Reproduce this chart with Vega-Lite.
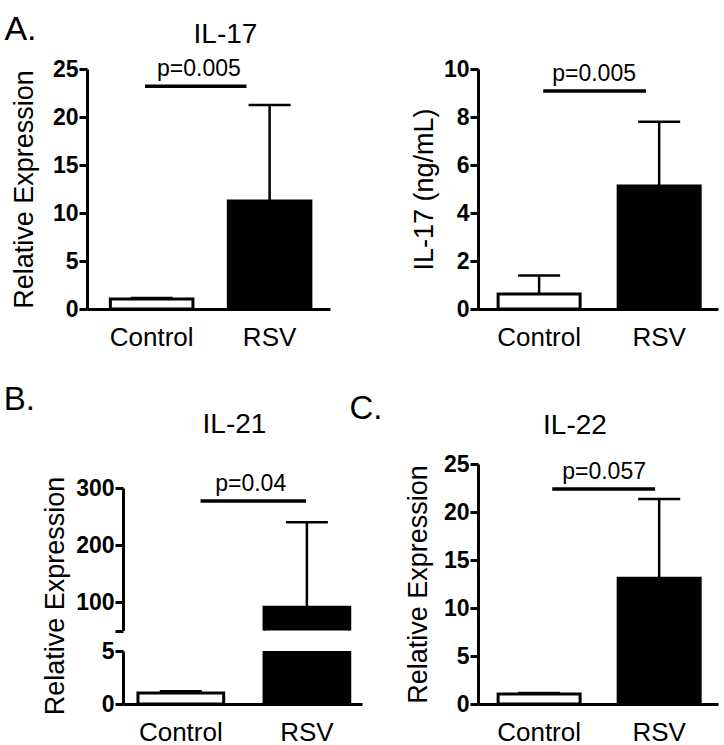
{
  "$schema": "https://vega.github.io/schema/vega-lite/v6.json",
  "background": "white",
  "padding": {"left": 3, "top": 13, "right": 5, "bottom": 5},
  "config": {
    "font": "Liberation Sans",
    "view": {"stroke": null},
    "title": {"fontSize": 28, "fontWeight": "normal", "color": "black", "font": "Liberation Sans", "baseline": "alphabetic"},
    "axis": {"domainColor": "black", "domainWidth": 3, "tickColor": "black", "tickWidth": 3, "tickSize": 8, "labelColor": "black", "titleColor": "black", "grid": false, "labelFont": "Liberation Sans", "titleFont": "Liberation Sans"},
    "axisY": {"labelFontSize": 23, "labelFontWeight": "bold", "labelPadding": 1, "titleFontSize": 27, "titleFontWeight": "normal", "titlePadding": 10, "labelFlush": false},
    "axisX": {"ticks": false, "labelFontSize": 26, "labelAngle": 0, "labelPadding": 15, "labelFontWeight": "normal"},
    "tick": {"opacity": 1}
  },
  "spacing": 34,
  "vconcat": [
    {
      "title": {"text": "A.", "anchor": "start", "fontSize": 34, "offset": -26, "dx": -6},
      "spacing": 80,
      "hconcat": [
        {
          "width": 243, "height": 240,
          "title": {"text": "IL-17", "dx": 17, "offset": 9},
          "data": {"values": [
            {"group": "Control", "mean": 1.05, "upper": 1.15},
            {"group": "RSV", "mean": 11.25, "upper": 21.25}
          ]},
          "encoding": {
            "x": {"field": "group", "type": "nominal", "title": null,
                  "scale": {"domain": ["Control", "RSV"], "paddingInner": 0.3, "paddingOuter": 0.18, "align": 0.55}}
          },
          "layer": [
            {"mark": {"type": "bar", "stroke": "black", "strokeWidth": 3},
             "encoding": {
               "y": {"field": "mean", "type": "quantitative", "title": "Relative Expression",
                     "scale": {"domain": [0, 25], "nice": false, "zero": false},
                     "axis": {"values": [0, 5, 10, 15, 20, 25], "titlePadding": 14}},
               "fill": {"field": "group", "type": "nominal", "scale": {"domain": ["Control", "RSV"], "range": ["white", "black"]}, "legend": null}
             }},
            {"mark": {"type": "rule", "strokeWidth": 2.5, "color": "black"},
             "encoding": {"y": {"field": "mean", "type": "quantitative", "title": "Relative Expression"}, "y2": {"field": "upper"}}},
            {"mark": {"type": "tick", "size": 42, "thickness": 2.5, "color": "black"},
             "encoding": {"y": {"field": "upper", "type": "quantitative", "title": "Relative Expression"}}},
            {"data": {"values": [{"group": "Control", "to": "RSV", "mean": 23.2, "label": "p=0.005"}]},
             "layer": [
               {"mark": {"type": "rule", "strokeWidth": 3.5, "color": "black"},
                "encoding": {
                  "x": {"field": "group", "type": "nominal", "title": null, "bandPosition": 0.42},
                  "x2": {"field": "to", "bandPosition": 0.22},
                  "y": {"field": "mean", "type": "quantitative", "title": "Relative Expression"}}},
               {"mark": {"type": "text", "fontSize": 23, "dx": 6, "dy": -10, "baseline": "alphabetic", "align": "center", "color": "black"},
                "encoding": {
                  "x": {"field": "group", "type": "nominal", "title": null, "bandPosition": 1},
                  "y": {"field": "mean", "type": "quantitative", "title": "Relative Expression"},
                  "text": {"field": "label"}}}
             ]}
          ]
        },
        {
          "width": 240, "height": 240,
          "data": {"values": [
            {"group": "Control", "mean": 0.62, "upper": 1.4},
            {"group": "RSV", "mean": 5.13, "upper": 7.8}
          ]},
          "encoding": {
            "x": {"field": "group", "type": "nominal", "title": null,
                  "scale": {"domain": ["Control", "RSV"], "paddingInner": 0.317, "paddingOuter": 0.158, "align": 0.53}}
          },
          "layer": [
            {"mark": {"type": "bar", "stroke": "black", "strokeWidth": 3},
             "encoding": {
               "y": {"field": "mean", "type": "quantitative", "title": "IL-17 (ng/mL)",
                     "scale": {"domain": [0, 10], "nice": false, "zero": false},
                     "axis": {"values": [0, 2, 4, 6, 8, 10], "titlePadding": 5}},
               "fill": {"field": "group", "type": "nominal", "scale": {"domain": ["Control", "RSV"], "range": ["white", "black"]}, "legend": null}
             }},
            {"mark": {"type": "rule", "strokeWidth": 2.5, "color": "black"},
             "encoding": {"y": {"field": "mean", "type": "quantitative", "title": "IL-17 (ng/mL)"}, "y2": {"field": "upper"}}},
            {"mark": {"type": "tick", "size": 42, "thickness": 2.5, "color": "black"},
             "encoding": {"y": {"field": "upper", "type": "quantitative", "title": "IL-17 (ng/mL)"}}},
            {"data": {"values": [{"group": "Control", "to": "RSV", "mean": 9.08, "label": "p=0.005"}]},
             "layer": [
               {"mark": {"type": "rule", "strokeWidth": 3.5, "color": "black"},
                "encoding": {
                  "x": {"field": "group", "type": "nominal", "title": null, "bandPosition": 0.55},
                  "x2": {"field": "to", "bandPosition": 0.34},
                  "y": {"field": "mean", "type": "quantitative", "title": "IL-17 (ng/mL)"}}},
               {"mark": {"type": "text", "fontSize": 23, "dx": 14, "dy": -10, "baseline": "alphabetic", "align": "center", "color": "black"},
                "encoding": {
                  "x": {"field": "group", "type": "nominal", "title": null, "bandPosition": 1},
                  "y": {"field": "mean", "type": "quantitative", "title": "IL-17 (ng/mL)"},
                  "text": {"field": "label"}}}
             ]}
          ]
        }
      ]
    },
    {
      "spacing": -13,
      "hconcat": [
        {
          "title": {"text": "B.", "anchor": "start", "fontSize": 33, "dx": -38, "offset": -6},
          "bounds": "flush",
          "spacing": 20,
          "vconcat": [
            {
              "width": 275, "height": 166.5,
              "title": {"text": "IL-21", "dx": 10, "offset": 25},
              "data": {"values": [
                {"group": "Control", "mean": 1.04, "upper": 1.2},
                {"group": "RSV", "mean": 91, "upper": 240}
              ]},
              "encoding": {
                "x": {"field": "group", "type": "nominal", "title": null, "axis": null,
                      "scale": {"domain": ["Control", "RSV"], "range": [36, 275], "paddingInner": 0.32, "paddingOuter": 0.108, "align": 0.55}}
              },
              "layer": [
                {"mark": {"type": "bar", "stroke": "black", "strokeWidth": 3, "clip": true},
                 "encoding": {
                   "y": {"field": "mean", "type": "quantitative", "title": "Relative Expression",
                         "scale": {"domain": [50, 300], "range": [166.5, 24], "nice": false, "zero": false},
                         "axis": {"values": [50, 100, 200, 300], "labelExpr": "datum.value == 50 ? '' : datum.label", "titleY": 131.5, "titlePadding": 6, "offset": -36}},
                   "fill": {"field": "group", "type": "nominal", "scale": {"domain": ["Control", "RSV"], "range": ["white", "black"]}, "legend": null}
                 }},
                {"mark": {"type": "rule", "strokeWidth": 2.5, "color": "black", "clip": true},
                 "encoding": {"y": {"field": "mean", "type": "quantitative", "title": "Relative Expression"}, "y2": {"field": "upper"}}},
                {"mark": {"type": "tick", "size": 42, "thickness": 2.5, "color": "black", "clip": true},
                 "encoding": {"y": {"field": "upper", "type": "quantitative", "title": "Relative Expression"}}},
                {"data": {"values": [{"group": "Control", "to": "RSV", "mean": 277, "label": "p=0.04"}]},
                 "layer": [
                   {"mark": {"type": "rule", "strokeWidth": 3.5, "color": "black"},
                    "encoding": {
                      "x": {"field": "group", "type": "nominal", "title": null, "bandPosition": 0.73},
                      "x2": {"field": "to", "bandPosition": 0.49},
                      "y": {"field": "mean", "type": "quantitative", "title": "Relative Expression"}}},
                   {"mark": {"type": "text", "fontSize": 23, "dx": 27, "dy": -10, "baseline": "alphabetic", "align": "center", "color": "black"},
                    "encoding": {
                      "x": {"field": "group", "type": "nominal", "title": null, "bandPosition": 1},
                      "y": {"field": "mean", "type": "quantitative", "title": "Relative Expression"},
                      "text": {"field": "label"}}}
                 ]}
              ]
            },
            {
              "width": 275, "height": 53,
              "data": {"values": [
                {"group": "Control", "mean": 1.04, "upper": 1.2},
                {"group": "RSV", "mean": 91, "upper": 240}
              ]},
              "encoding": {
                "x": {"field": "group", "type": "nominal", "title": null,
                      "scale": {"domain": ["Control", "RSV"], "range": [36, 275], "paddingInner": 0.32, "paddingOuter": 0.108, "align": 0.55}}
              },
              "layer": [
                {"mark": {"type": "bar", "stroke": "black", "strokeWidth": 3, "clip": true},
                 "encoding": {
                   "y": {"field": "mean", "type": "quantitative", "title": null,
                         "scale": {"domain": [0, 5], "nice": false, "zero": false},
                         "axis": {"values": [0, 5], "title": null, "offset": -36}},
                   "fill": {"field": "group", "type": "nominal", "scale": {"domain": ["Control", "RSV"], "range": ["white", "black"]}, "legend": null}
                 }},
                {"mark": {"type": "rule", "strokeWidth": 2.5, "color": "black", "clip": true},
                 "encoding": {"y": {"field": "mean", "type": "quantitative", "title": null}, "y2": {"field": "upper"}}},
                {"mark": {"type": "tick", "size": 42, "thickness": 2.5, "color": "black", "clip": true},
                 "encoding": {"y": {"field": "upper", "type": "quantitative", "title": null}}}
              ]
            }
          ]
        },
        {
          "title": {"text": "C.", "anchor": "start", "fontSize": 33, "dx": -55, "offset": -14},
          "bounds": "flush",
          "vconcat": [
            {
              "width": 240, "height": 240,
              "title": {"text": "IL-22", "dx": -23, "offset": 13.5},
              "data": {"values": [
                {"group": "Control", "mean": 1.05, "upper": 1.15},
                {"group": "RSV", "mean": 13.1, "upper": 21.35}
              ]},
              "encoding": {
                "x": {"field": "group", "type": "nominal", "title": null,
                      "scale": {"domain": ["Control", "RSV"], "paddingInner": 0.317, "paddingOuter": 0.158, "align": 0.53}}
              },
              "layer": [
                {"mark": {"type": "bar", "stroke": "black", "strokeWidth": 3},
                 "encoding": {
                   "y": {"field": "mean", "type": "quantitative", "title": "Relative Expression",
                         "scale": {"domain": [0, 25], "nice": false, "zero": false},
                         "axis": {"values": [0, 5, 10, 15, 20, 25], "titlePadding": 11}},
                   "fill": {"field": "group", "type": "nominal", "scale": {"domain": ["Control", "RSV"], "range": ["white", "black"]}, "legend": null}
                 }},
                {"mark": {"type": "rule", "strokeWidth": 2.5, "color": "black"},
                 "encoding": {"y": {"field": "mean", "type": "quantitative", "title": "Relative Expression"}, "y2": {"field": "upper"}}},
                {"mark": {"type": "tick", "size": 42, "thickness": 2.5, "color": "black"},
                 "encoding": {"y": {"field": "upper", "type": "quantitative", "title": "Relative Expression"}}},
                {"data": {"values": [{"group": "Control", "to": "RSV", "mean": 22.4, "label": "p=0.057"}]},
                 "layer": [
                   {"mark": {"type": "rule", "strokeWidth": 3.5, "color": "black"},
                    "encoding": {
                      "x": {"field": "group", "type": "nominal", "title": null, "bandPosition": 0.66},
                      "x2": {"field": "to", "bandPosition": 0.45},
                      "y": {"field": "mean", "type": "quantitative", "title": "Relative Expression"}}},
                   {"mark": {"type": "text", "fontSize": 23, "dx": 24, "dy": -10, "baseline": "alphabetic", "align": "center", "color": "black"},
                    "encoding": {
                      "x": {"field": "group", "type": "nominal", "title": null, "bandPosition": 1},
                      "y": {"field": "mean", "type": "quantitative", "title": "Relative Expression"},
                      "text": {"field": "label"}}}
                 ]}
              ]
            }
          ]
        }
      ]
    }
  ]
}
